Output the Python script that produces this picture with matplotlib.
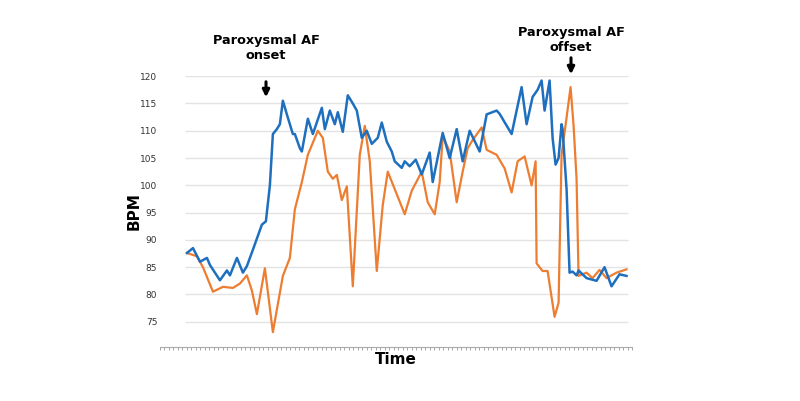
import numpy as np
import matplotlib.pyplot as plt

# time in arbitrary units (no labels on the axis)
blue_t = [1, 7, 14, 21, 24, 34, 41, 44, 51, 57, 61, 67, 76, 80, 84, 87, 91, 94, 97, 101, 107, 109,
          114, 116, 122, 127, 136, 139, 144, 149, 152, 157, 162, 167, 171, 176, 181, 186, 192, 196,
          201, 206, 209, 216, 219, 224, 230, 236, 244, 247, 257, 264, 271, 277, 284, 294, 301, 311,
          314, 326, 336, 341, 347, 352, 356, 359, 364, 367, 370, 373, 376, 377, 381, 384, 387, 391,
          393, 401, 411, 419, 426, 434, 441]
blue_bpm = [87.6, 88.5, 86.0, 86.7, 85.4, 82.6, 84.4, 83.5, 86.7, 84.0, 85.2, 88.2, 92.8, 93.4, 100.0, 109.4,
            110.3, 111.2, 115.5, 113.0, 109.4, 109.4, 106.8, 106.2, 112.2, 109.4, 114.2, 110.3, 113.7, 111.2,
            113.4, 109.8, 116.5, 115.0, 113.7, 108.7, 110.0, 107.6, 108.7, 111.5, 108.0, 106.2, 104.4, 103.2,
            104.4, 103.5, 104.7, 102.0, 106.0, 100.6, 109.6, 105.0, 110.3, 104.4, 110.0, 106.2, 113.0, 113.7,
            113.1, 109.4, 118.0, 111.2, 116.2, 117.5, 119.2, 113.7, 119.2, 108.7, 103.8, 105.0, 111.2, 110.3,
            99.3, 84.0, 84.2, 83.5, 84.4, 83.0, 82.5, 85.0, 81.5, 83.7, 83.4]

orange_t = [1, 11, 17, 27, 37, 47, 54, 61, 66, 71, 79, 87, 97, 104, 109, 116, 122, 132, 137, 142, 147,
            151, 156, 161, 167, 174, 179, 184, 191, 197, 202, 209, 219, 226, 236, 242, 249, 254, 257,
            264, 271, 277, 282, 287, 296, 301, 311, 319, 326, 332, 339, 346, 350, 351, 357, 362, 369,
            373, 376, 381, 385, 388, 391, 393, 401, 407, 414, 421, 431, 441]
orange_bpm = [87.6, 87.0, 85.0, 80.5, 81.4, 81.2, 82.0, 83.5, 80.7, 76.4, 84.8, 73.1, 83.4, 86.7, 95.6, 100.6,
              105.6, 110.0, 108.7, 102.5, 101.2, 101.9, 97.3, 99.8, 81.5, 105.6, 110.9, 104.4, 84.3, 96.4,
              102.5, 99.3, 94.7, 99.0, 102.5, 96.9, 94.7, 100.6, 109.0, 106.2, 96.9, 102.5, 106.8, 108.3,
              110.6, 106.5, 105.6, 103.1, 98.7, 104.4, 105.3, 100.0, 104.4, 85.7, 84.3, 84.3, 75.9, 78.5,
              105.6, 112.4, 118.0, 111.0, 101.2, 83.4, 84.0, 83.0, 84.5, 83.0, 84.0, 84.6]

yticks = [75, 80, 85, 90, 95, 100, 105, 110, 115, 120]

fig = plt.figure(figsize=(8, 4.01), dpi=100)
ax = fig.add_axes([0.2, 0.135, 0.59, 0.675])

ax.hlines(yticks, -1, 442, color='#e3e3e3', lw=1, zorder=0)
ax.plot(orange_t, orange_bpm, color='#ED7D31', lw=1.6)
ax.plot(blue_t, blue_bpm, color='#1F6FBF', lw=1.8)

ax.set_xlim(-26, 446)
ax.set_ylim(70.4, 120)
ax.set_yticks(yticks)
ax.set_yticklabels([str(v) for v in yticks], fontsize=6.5, color='#333333')
ax.tick_params(axis='y', length=0, pad=2)
ax.set_xticks(np.arange(-26, 447, 4.5), minor=True)
ax.set_xticks([])
ax.tick_params(axis='x', which='minor', length=2, color='#999999', width=0.6)
for s in ['top', 'right', 'left']:
    ax.spines[s].set_visible(False)
ax.spines['bottom'].set_color('#aaaaaa')

ax.set_ylabel('BPM', fontsize=11, fontweight='bold', labelpad=-1)
ax.set_xlabel('Time', fontsize=11, fontweight='bold', labelpad=-2)

fig.text(266 / 800, 1 - 48 / 401, 'Paroxysmal AF\nonset', ha='center', va='center',
         fontsize=9.3, fontweight='bold', linespacing=1.2)
fig.text(571 / 800, 1 - 40 / 401, 'Paroxysmal AF\noffset', ha='center', va='center',
         fontsize=9.3, fontweight='bold', linespacing=1.2)
for x, y0, y1 in [(266, 79, 100), (571, 55, 77)]:
    fig.add_artist(plt.Annotation('', xy=(x / 800, 1 - y1 / 401), xytext=(x / 800, 1 - y0 / 401),
                                  xycoords='figure fraction',
                                  arrowprops=dict(arrowstyle='-|>', color='black', lw=2.2,
                                                  mutation_scale=10)))

fig.savefig('out.png', dpi=100)
